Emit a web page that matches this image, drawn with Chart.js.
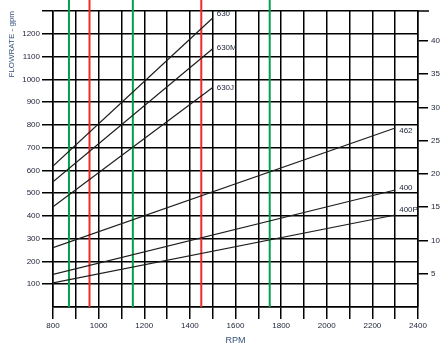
<!DOCTYPE html>
<html>
<head>
<meta charset="utf-8">
<script src="https://cdn.jsdelivr.net/npm/chart.js@4/dist/chart.umd.min.js"></script>
<style>
  html, body { margin: 0; padding: 0; background: #fff; }
  canvas { display: block; }
</style>
</head>
<body>
<canvas id="myChart" width="444" height="354"></canvas>
<script>
// pump curves: start and end points
const lineNames = ['630', '630M', '630J', '462', '400', '400P'];
const lineRpm = [[800, 1500], [800, 1500], [800, 1500], [800, 2300], [800, 2300], [800, 2300]];
const lineGpm = [[619, 1269], [550, 1134], [440, 964], [261, 786], [143, 514], [106, 404]];

// vertical marker lines (rpm)
const greenRpm = [870, 1150, 1750];
const redRpm = [960, 1450];

const fontFam = '"Liberation Sans", Arial, Helvetica, sans-serif';
const tickColor = '#1b2236';
const titleColor = '#36527a';

// small vertical nudges for the curve labels (px)
const labelNudge = [-4, -1, 0, 3, -2, -5];

const datasets = [];
lineNames.forEach(function (name, i) {
    datasets.push({
        label: name,
        data: [{ x: lineRpm[i][0], y: lineGpm[i][0] }, { x: lineRpm[i][1], y: lineGpm[i][1] }],
        borderColor: '#1e1e1e',
        borderWidth: 1.2,
        pointRadius: 0,
        tension: 0
    });
});
greenRpm.forEach(function (r) {
    datasets.push({
        label: 'g' + r,
        data: [{ x: r, y: 0 }, { x: r, y: 1350 }],
        borderColor: '#00a04e',
        borderWidth: 2,
        pointRadius: 0,
        clip: false
    });
});
redRpm.forEach(function (r) {
    datasets.push({
        label: 'r' + r,
        data: [{ x: r, y: 0 }, { x: r, y: 1350 }],
        borderColor: '#ee2a2a',
        borderWidth: 2,
        pointRadius: 0,
        clip: false
    });
});

const lineLabels = {
    id: 'lineLabels',
    afterDatasetsDraw(chart) {
        const ctx = chart.ctx;
        const x = chart.scales.x;
        const y = chart.scales.y;
        ctx.save();
        ctx.font = '8px ' + fontFam;
        ctx.fillStyle = tickColor;
        ctx.textBaseline = 'middle';
        lineNames.forEach(function (name, i) {
            const px = x.getPixelForValue(lineRpm[i][1]);
            const py = y.getPixelForValue(lineGpm[i][1]);
            ctx.fillText(name, px + 4, py + labelNudge[i]);
        });
        // top border runs a little past the right axis
        const top = y.getPixelForValue(1300);
        ctx.strokeStyle = '#000';
        ctx.lineWidth = 1.5;
        ctx.beginPath();
        ctx.moveTo(chart.chartArea.right, top);
        ctx.lineTo(chart.chartArea.right + 11, top);
        ctx.stroke();
        ctx.restore();
    }
};

const config = {
    type: 'line',
    data: { datasets: datasets },
    options: {
        responsive: false,
        animation: false,
        events: [],
        layout: { padding: { top: 11, left: 0, right: 0, bottom: 0 } },
        plugins: {
            legend: { display: false },
            tooltip: { enabled: false },
            title: { display: false }
        },
        scales: {
            x: {
                type: 'linear',
                min: 800,
                max: 2400,
                afterFit: function (scale) { scale.height = 47; },
                ticks: {
                    stepSize: 100,
                    maxRotation: 0,
                    autoSkip: false,
                    padding: 2,
                    color: tickColor,
                    font: { family: fontFam, size: 8 },
                    callback: function (value) {
                        return value % 200 === 0 ? String(value) : '';
                    }
                },
                grid: { color: '#000', lineWidth: 1.5, tickLength: 12 },
                border: { color: '#000', width: 1.5 },
                title: {
                    display: true,
                    text: 'RPM',
                    color: titleColor,
                    font: { family: fontFam, size: 9 },
                    padding: { top: 0, bottom: 8 }
                }
            },
            y: {
                type: 'linear',
                position: 'left',
                min: 0,
                max: 1300,
                afterFit: function (scale) { scale.width = 53; },
                ticks: {
                    stepSize: 100,
                    autoSkip: false,
                    padding: 2,
                    color: tickColor,
                    font: { family: fontFam, size: 8 },
                    callback: function (value) {
                        return (value === 0 || value === 1300) ? '' : String(value);
                    }
                },
                grid: {
                    color: '#000',
                    lineWidth: 1.5,
                    tickLength: 11,
                    tickColor: function (ctx) {
                        return ctx.tick && ctx.tick.value === 0 ? 'rgba(0,0,0,0)' : '#000';
                    }
                },
                border: { color: '#000', width: 1.5 },
                title: {
                    display: true,
                    text: 'FLOWRATE - gpm',
                    align: 'end',
                    color: titleColor,
                    font: { family: fontFam, size: 8 },
                    padding: { top: 7, bottom: 0 }
                }
            },
            y1: {
                type: 'linear',
                position: 'right',
                min: 0,
                max: 44.5,
                afterFit: function (scale) { scale.width = 26; },
                ticks: {
                    stepSize: 5,
                    autoSkip: false,
                    padding: 3,
                    color: tickColor,
                    font: { family: fontFam, size: 8 },
                    callback: function (value) {
                        return (value > 0 && value <= 40) ? String(value) : '';
                    }
                },
                grid: {
                    drawOnChartArea: false,
                    lineWidth: 1.5,
                    tickLength: 10,
                    tickColor: function (ctx) {
                        const v = ctx.tick ? ctx.tick.value : 0;
                        return (v > 0 && v <= 40) ? '#000' : 'rgba(0,0,0,0)';
                    }
                },
                border: { color: '#000', width: 1.5 }
            }
        }
    },
    plugins: [lineLabels]
};

window.myChart = new Chart(document.getElementById('myChart'), config);
</script>
</body>
</html>
